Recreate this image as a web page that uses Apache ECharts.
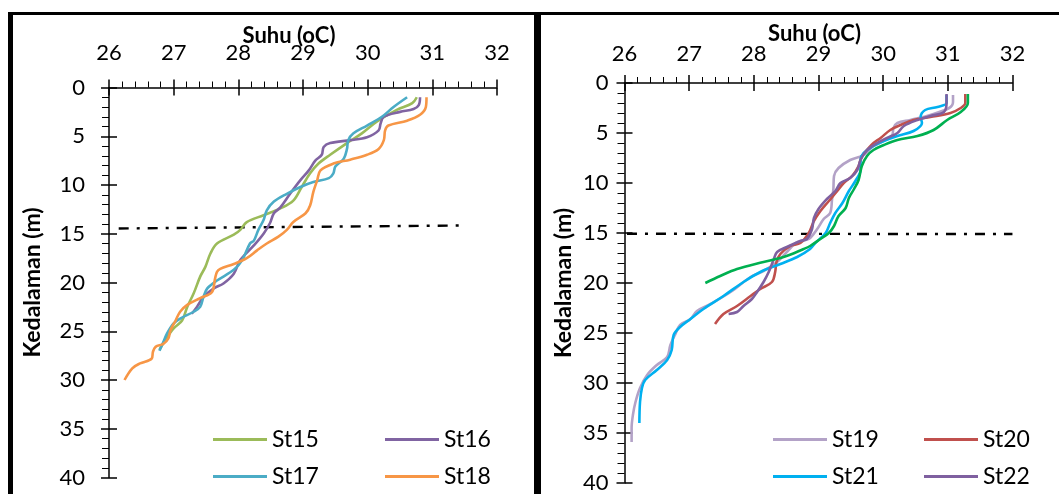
<!DOCTYPE html>
<html>
<head>
<meta charset="utf-8">
<script src="https://cdn.jsdelivr.net/npm/echarts@6/dist/echarts.min.js"></script>
<style>
html,body{margin:0;padding:0;background:#fff;}
#chart{width:1059px;height:494px;}
</style>
</head>
<body>
<div id="chart"></div>
<script>
// ---- tick labels ----
const tempTicks = [26, 27, 28, 29, 30, 31, 32];
const depthTicks = [0, 5, 10, 15, 20, 25, 30, 35, 40];

// ---- series values: [temperature (oC), depth (m)] ----
const st15 = [[30.76,1.0],[30.69,1.6],[30.45,2.3],[30.14,3.5],[29.91,4.7],[29.68,5.7],[29.42,6.9],[29.24,7.8],[29.11,8.8],[28.98,10.2],[28.85,11.6],[28.65,12.4],[28.39,13.1],[28.13,13.8],[28.03,14.6],[27.93,15.1],[27.67,16.0],[27.57,17.0],[27.49,18.4],[27.41,19.4],[27.31,21.1],[27.21,22.5],[27.13,23.9],[27.0,24.7],[26.87,25.9],[26.78,26.9]];
const st16 = [[30.81,1.0],[30.79,1.8],[30.71,2.2],[30.5,2.5],[30.25,3.0],[30.2,3.7],[30.17,4.4],[29.99,5.1],[29.73,5.4],[29.42,5.7],[29.32,6.1],[29.29,6.9],[29.19,7.5],[29.09,8.5],[28.96,9.5],[28.8,10.9],[28.65,12.3],[28.55,12.9],[28.49,13.9],[28.39,15.0],[28.24,16.2],[28.03,17.7],[27.93,19.1],[27.77,20.1],[27.62,20.6],[27.46,21.5],[27.36,22.5],[27.28,23.2]];
const st17 = [[30.61,1.0],[30.4,2.0],[30.22,3.0],[29.99,3.9],[29.78,4.7],[29.7,5.4],[29.68,6.3],[29.63,7.3],[29.5,8.1],[29.47,8.8],[29.4,9.3],[29.16,9.7],[28.96,10.2],[28.75,10.9],[28.55,11.7],[28.44,12.6],[28.39,13.6],[28.31,14.6],[28.24,15.7],[28.18,16.0],[28.06,17.7],[27.93,18.7],[27.67,19.8],[27.52,20.6],[27.46,21.5],[27.41,22.5],[27.31,23.0],[27.1,23.7],[27.0,24.2],[26.9,25.2],[26.84,26.1],[26.78,27.0]];
const st18 = [[30.91,1.0],[30.9,2.0],[30.81,2.8],[30.61,3.4],[30.32,3.9],[30.27,4.4],[30.25,5.4],[30.17,6.3],[29.99,6.9],[29.73,7.4],[29.47,7.8],[29.27,8.5],[29.22,9.5],[29.16,10.7],[29.11,12.1],[29.04,12.9],[28.85,13.8],[28.75,14.6],[28.62,15.3],[28.44,16.0],[28.29,16.7],[28.13,17.5],[27.93,18.1],[27.72,18.6],[27.67,18.9],[27.64,19.6],[27.59,21.0],[27.41,21.6],[27.21,22.3],[27.1,23.0],[27.03,23.9],[26.95,24.9],[26.92,25.7],[26.84,26.3],[26.72,26.6],[26.68,27.1],[26.66,27.8],[26.48,28.3],[26.36,28.8],[26.24,30.0]];
const st19 = [[31.08,1.2],[31.08,1.9],[31.02,2.5],[30.73,3.2],[30.42,3.7],[30.22,4.0],[30.16,4.5],[30.14,5.2],[30.01,5.8],[29.85,6.3],[29.7,7.2],[29.49,7.7],[29.31,8.5],[29.24,9.3],[29.23,10.6],[29.21,11.6],[29.18,13.0],[29.08,13.6],[28.98,14.6],[28.85,15.6],[28.67,15.9],[28.51,16.9],[28.36,17.9],[28.15,18.8],[27.95,19.4],[27.64,20.9],[27.33,22.1],[27.12,22.8],[27.02,23.6],[26.86,24.2],[26.78,25.2],[26.71,26.2],[26.66,27.4],[26.5,28.2],[26.35,29.2],[26.24,30.5],[26.17,31.9],[26.13,33.2],[26.11,34.5],[26.11,35.9]];
const st20 = [[31.27,1.1],[31.27,2.0],[31.2,2.5],[31.04,3.0],[30.73,3.4],[30.47,3.7],[30.27,4.2],[30.11,4.7],[29.96,5.5],[29.85,6.0],[29.75,6.7],[29.67,7.3],[29.62,8.3],[29.52,9.3],[29.39,10.0],[29.29,10.8],[29.16,11.8],[29.03,12.8],[28.93,13.8],[28.85,15.0],[28.72,16.0],[28.56,16.3],[28.41,17.1],[28.35,17.9],[28.33,18.9],[28.28,19.9],[28.1,20.6],[27.95,21.3],[27.74,22.3],[27.53,23.1],[27.4,24.1]];
const st21 = [[30.98,1.2],[30.98,2.0],[30.84,2.4],[30.65,2.7],[30.58,3.4],[30.6,4.0],[30.47,4.8],[30.22,5.3],[30.01,5.8],[29.85,6.3],[29.7,7.0],[29.65,7.7],[29.65,8.7],[29.57,9.8],[29.47,10.8],[29.37,12.0],[29.26,13.0],[29.18,14.0],[29.11,15.0],[28.95,16.0],[28.87,16.6],[28.67,17.4],[28.41,18.1],[28.1,18.9],[27.84,19.9],[27.53,21.3],[27.22,22.6],[27.02,23.6],[26.86,24.4],[26.76,25.2],[26.73,26.7],[26.66,27.7],[26.5,28.7],[26.32,29.7],[26.27,30.5],[26.24,31.9],[26.23,34.0]];
const st22 = [[30.98,1.1],[30.98,2.0],[30.94,2.9],[30.73,3.3],[30.53,3.7],[30.32,4.3],[30.22,5.0],[30.06,5.5],[29.91,6.0],[29.75,6.7],[29.65,7.7],[29.6,8.7],[29.49,9.5],[29.34,10.0],[29.26,10.8],[29.13,11.6],[29.0,12.6],[28.93,13.5],[28.9,14.6],[28.82,15.6],[28.72,15.8],[28.51,16.4],[28.36,16.9],[28.31,17.6],[28.23,18.9],[28.15,19.9],[28.05,20.9],[27.97,21.6],[27.84,22.3],[27.74,22.9],[27.61,23.1]];
const st23 = [[31.31,1.1],[31.31,2.0],[31.2,2.9],[30.99,3.7],[30.78,4.7],[30.53,5.3],[30.22,5.7],[30.01,6.2],[29.85,6.7],[29.75,7.3],[29.67,8.3],[29.62,9.7],[29.55,10.6],[29.47,11.5],[29.42,12.5],[29.31,13.3],[29.24,14.3],[29.16,15.0],[29.03,15.6],[28.87,16.3],[28.77,16.6],[28.46,17.4],[28.15,17.9],[27.74,18.6],[27.48,19.3],[27.25,20.0]];
const thermoclineLeft = [[26.15,14.46],[31.49,14.15]];
const thermoclineRight = [[26.04,15.0],[32.25,15.03]];

const FONT = 'Lato';
const chart = echarts.init(document.getElementById('chart'));
const T0 = tempTicks[0], T1 = tempTicks[tempTicks.length - 1], TI = tempTicks[1] - tempTicks[0];
const D0 = depthTicks[0], D1 = depthTicks[depthTicks.length - 1], DI = depthTicks[1] - depthTicks[0];

function xMain(gridIndex, gap, pad, margin) {
  return {
    type: 'value', gridIndex, position: 'top', min: T0, max: T1, interval: TI,
    name: 'Suhu (oC)', nameLocation: 'middle', nameGap: gap, nameMoveOverlap: false,
    nameTextStyle: { fontFamily: FONT, fontWeight: 'bold', fontSize: 22, color: '#000', padding: pad },
    axisLine: { show: true, onZero: false, lineStyle: { color: '#000', width: 1.5 } },
    axisTick: { show: true, inside: false, length: 8, lineStyle: { color: '#000', width: 1.5 } },
    minorTick: { show: true, splitNumber: 5, length: 6, lineStyle: { color: '#000', width: 1 } },
    axisLabel: { fontFamily: FONT, fontSize: 22, color: '#000', margin: margin },
    splitLine: { show: false }
  };
}
function xOver(gridIndex) {
  return {
    type: 'value', gridIndex, position: 'top', offset: 0, min: T0, max: T1, interval: TI,
    axisLine: { show: false },
    axisTick: { show: true, inside: true, length: 8, lineStyle: { color: '#000', width: 1.5 } },
    axisLabel: { show: false }, splitLine: { show: false }
  };
}
function yMain(gridIndex, gap, margin) {
  return {
    type: 'value', gridIndex, position: 'left', inverse: true, min: D0, max: D1, interval: DI,
    name: 'Kedalaman (m)', nameLocation: 'middle', nameGap: gap, nameRotate: 90,
    nameTextStyle: { fontFamily: FONT, fontWeight: 'bold', fontSize: 23, color: '#000' },
    axisLine: { show: true, onZero: false, lineStyle: { color: '#000', width: 1.5 } },
    axisTick: { show: true, inside: false, length: 8, lineStyle: { color: '#000', width: 1.5 } },
    minorTick: { show: true, splitNumber: 5, length: 7, lineStyle: { color: '#000', width: 1 } },
    axisLabel: { fontFamily: FONT, fontSize: 22, color: '#000', margin: margin },
    splitLine: { show: false }
  };
}
function yOver(gridIndex) {
  return {
    type: 'value', gridIndex, position: 'left', offset: 0, inverse: true, min: D0, max: D1, interval: DI,
    axisLine: { show: false },
    axisTick: { show: true, inside: true, length: 8, lineStyle: { color: '#000', width: 1.5 } },
    axisLabel: { show: false }, splitLine: { show: false }
  };
}
function line(name, data, color, xi, yi) {
  return {
    type: 'line', name, data, xAxisIndex: xi, yAxisIndex: yi,
    symbol: 'none', smooth: 0.35, lineStyle: { color, width: 2.6 }, itemStyle: { color },
    emphasis: { disabled: true }, z: 3
  };
}
function dashLine(data, xi, yi) {
  return {
    type: 'line', data, xAxisIndex: xi, yAxisIndex: yi, clip: false,
    symbol: 'none', lineStyle: { color: '#000', width: 2.4, type: [10, 8, 3, 8] },
    emphasis: { disabled: true }, z: 2, silent: true
  };
}
function leg(name, left, top) {
  return {
    data: [name], left, top, itemWidth: 54, itemHeight: 3, itemGap: 0, icon: 'rect',
    selectedMode: false, padding: 0,
    textStyle: { fontFamily: FONT, fontSize: 23, color: '#000', padding: [0, 0, 0, 0] }
  };
}

// hidden helper axis for the right thermocline line, same scale but extended to 33
const hiddenX = { type: 'value', gridIndex: 2, show: false, min: T0, max: T1 + 1, splitLine: { show: false } };
const hiddenY = { type: 'value', gridIndex: 2, show: false, inverse: true, min: D0, max: D1, splitLine: { show: false } };

const option = {
  backgroundColor: '#fff',
  animation: false,
  grid: [
    { left: 109, top: 87.5, width: 388, height: 390 },
    { left: 624.5, top: 83, width: 388, height: 402 },
    { left: 624.5, top: 83, width: 388 * 7 / 6, height: 402 }
  ],
  xAxis: [xMain(0, 41, [0, 28, 0, 0], 24), xOver(0), xMain(1, 38, [0, 8, 0, 0], 18), xOver(1), hiddenX],
  yAxis: [yMain(0, 65, 24), yOver(0), yMain(1, 49, 16), yOver(1), hiddenY],
  legend: [
    leg('St15', 213, 428), leg('St16', 385, 428), leg('St17', 213, 465), leg('St18', 385, 465),
    leg('St19', 773, 428), leg('St20', 924, 428), leg('St21', 773, 465), leg('St22', 924, 465)
  ],
  series: [
    dashLine(thermoclineLeft, 0, 0),
    line('St15', st15, '#9BBB59', 0, 0),
    line('St16', st16, '#8064A2', 0, 0),
    line('St17', st17, '#4BACC6', 0, 0),
    line('St18', st18, '#F79646', 0, 0),
    dashLine(thermoclineRight, 4, 4),
    line('St19', st19, '#B3A2C7', 2, 2),
    line('St20', st20, '#C0504D', 2, 2),
    line('St21', st21, '#00B0F0', 2, 2),
    line('St22', st22, '#7F60A0', 2, 2),
    line('St23', st23, '#00B050', 2, 2)
  ],
  graphic: [
    { type: 'rect', shape: { x: 8, y: 12, width: 1051, height: 3 }, style: { fill: '#000' }, silent: true },
    { type: 'rect', shape: { x: 8, y: 12, width: 5, height: 482 }, style: { fill: '#000' }, silent: true },
    { type: 'rect', shape: { x: 534, y: 12, width: 7, height: 482 }, style: { fill: '#000' }, silent: true }
  ]
};
chart.setOption(option);
</script>
</body>
</html>
